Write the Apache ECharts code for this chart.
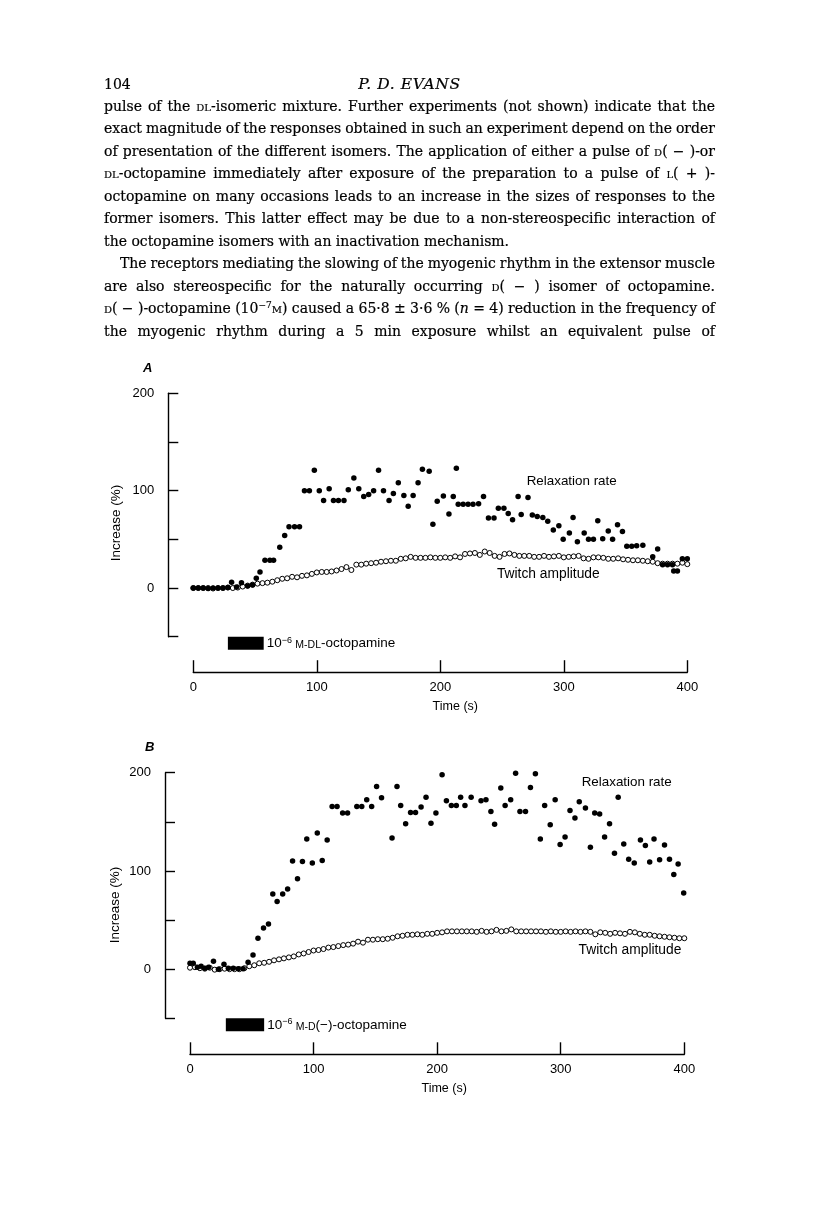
<!DOCTYPE html>
<html>
<head>
<meta charset="utf-8">
<script src="https://cdn.jsdelivr.net/npm/echarts@6/dist/echarts.min.js"></script>
<style>
  html, body { margin: 0; padding: 0; background: #fff; }
  #page { position: relative; width: 816px; height: 1212px; overflow: hidden; }
  #chart { position: absolute; left: 0; top: 0; width: 816px; height: 1212px; }
  .ln { position: absolute; left: 104px; width: 611px; height: 22px; line-height: 22px;
        font-family: "DejaVu Serif", serif; font-size: 14px; color: #000; white-space: nowrap; z-index: 2;
        -webkit-text-stroke: 0.2px #000; }
  .sc { font-variant: small-caps; }
  sup { font-size: 9px; line-height: 0; vertical-align: 5px; }
</style>
</head>
<body>
<div id="page">
  <div id="chart"></div>
  <div class="ln" style="top:73px;">104</div>
  <div class="ln" style="top:73px;text-align:center;font-style:italic;font-size:15.5px;letter-spacing:0.6px;">P. D. EVANS</div>
  <div class="ln fit" style="top:95px;">pulse of the <span class="sc">dl</span>-isomeric mixture. Further experiments (not shown) indicate that the</div>
  <div class="ln fit" style="top:117px;">exact magnitude of the responses obtained in such an experiment depend on the order</div>
  <div class="ln fit" style="top:140px;">of presentation of the different isomers. The application of either a pulse of <span class="sc">d</span>( − )-or</div>
  <div class="ln fit" style="top:162px;"><span class="sc">dl</span>-octopamine immediately after exposure of the preparation to a pulse of <span class="sc">l</span>( + )-</div>
  <div class="ln fit" style="top:185px;">octopamine on many occasions leads to an increase in the sizes of responses to the</div>
  <div class="ln fit" style="top:207px;">former isomers. This latter effect may be due to a non-stereospecific interaction of</div>
  <div class="ln" style="top:230px;">the octopamine isomers with an inactivation mechanism.</div>
  <div class="ln fit" style="top:252px;left:120px;width:595px;">The receptors mediating the slowing of the myogenic rhythm in the extensor muscle</div>
  <div class="ln fit" style="top:275px;">are also stereospecific for the naturally occurring <span class="sc">d</span>( − ) isomer of octopamine.</div>
  <div class="ln fit" style="top:297px;"><span class="sc">d</span>( − )-octopamine (10<sup>−7</sup><span class="sc">m</span>) caused a 65·8 ± 3·6 % (<i>n</i> = 4) reduction in the frequency of</div>
  <div class="ln fit" style="top:320px;">the myogenic rhythm during a 5 min exposure whilst an equivalent pulse of</div>
</div>
<script>
// ---------- data ----------
const timeTicks = [0, 100, 200, 300, 400];
const yTicks = [-50, 0, 50, 100, 150, 200];

const pulseA = [28, 57];
const pulseB = [29, 60];

const relaxA = [[0,0],[4,0],[8,0],[12,-0.5],[16,0],[20,0],[24,0],[28,0.5],[31,6],[35,1],[39,5.5],[44,2],[48,3],[51,10],[54,16.5],[58,28.5],[62,28.5],[65,28.5],[70,42],[74,54],[77.5,63],[82,63],[86,63],[90,100],[94,100],[98,121],[102,100],[105.5,90],[110,102],[113.5,90],[117.5,90],[122,90],[125.5,101],[130,113],[134,102],[138,94],[142,96],[146,100],[150,121],[154,100],[158.5,90],[162,97],[166,108],[170.5,95],[174,84],[178,95],[182,108],[185.5,122],[191,120],[194,65.5],[197.5,89],[202.5,94.5],[207,76],[210.5,94],[213,123],[214.5,86],[218.5,86],[222.5,86],[226.5,86],[231,86.5],[235,94],[239,72],[243.5,72],[247,82],[251.5,82],[255,76.5],[258.5,70],[263,94],[265.5,75.5],[271,93],[274.5,75],[278.5,73.5],[283,72.5],[287,68.5],[291.5,59.5],[296,64],[299.5,50],[304.5,56.5],[307.5,72.5],[311,47.5],[316.5,56.5],[320,50],[324,50],[327.5,69],[331.5,50.5],[336,58.5],[339.5,50],[343.5,65],[347.5,58],[351,43],[355,43],[359,43.5],[364,44],[372,32],[376,40],[380,24],[384,24],[388,24],[389,17.5],[392,17.5],[396,30],[400,30]];

const twitchA = [[0,0],[4,0],[8,0],[12,0],[16,-0.5],[20,0],[24,0],[28,0.5],[32,0],[36,0.5],[40,1.5],[44,2.5],[48,3.5],[52,4.5],[56,5],[60,5.5],[64,6.5],[68,8],[72,9.5],[76,10],[80,11.5],[84,11],[88,12.5],[92,13],[96,14.5],[100,16],[104,16.5],[108,16.5],[112,17],[116,18],[120,19.5],[124,21.5],[128,18.5],[132,24],[136,24],[140,25],[144,25.5],[148,26],[152,27],[156,27.5],[160,28],[164,28],[168,30],[172,30.5],[176,32],[180,31],[184,31],[188,31],[192,31.5],[196,31],[200,31],[204,31.5],[208,31],[212,32.5],[216,31.5],[220,35],[224,35.5],[228,36],[232,34],[236,37.5],[240,36],[244,33],[248,32],[252,35],[256,35.5],[260,34],[264,33],[268,33],[272,33],[276,32],[280,32],[284,33],[288,32],[292,32.5],[296,33],[300,31.5],[304,32],[308,32.5],[312,33],[316,30.5],[320,30],[324,31.5],[328,31.5],[332,31],[336,30],[340,30],[344,30.5],[348,29.5],[352,29],[356,28.5],[360,28.5],[364,28],[368,27.5],[372,27],[376,25.5],[380,25],[384,25],[388,25],[392,25],[396,26],[400,24.5]];

const relaxB = [[0,6],[2.6,6],[6,2],[9,3],[12,1],[15,2],[19,8],[23,0],[27.5,5],[31,1],[35,1],[39,0.5],[43,0.5],[47,7],[51,14.5],[55,31.5],[59.5,42],[63.5,46],[67,76.5],[70.5,69],[75,76.5],[79,81.5],[83,110],[87,92],[91,109.5],[94.5,132.5],[99,108],[103,138.5],[107,110.5],[111,131.5],[115,165.5],[119,165.5],[123.5,159],[127.5,159],[131,200.5],[135,165.5],[139,165.5],[143,172.5],[147,165.5],[151,186],[155,174.5],[159,201.5],[163.5,133.5],[167.5,186],[170.5,166.5],[174.5,148],[178.5,159.5],[182.5,159.5],[187,165],[191,175],[195,148.5],[199,159],[204,198],[207.5,171.5],[211.5,166.5],[215.5,166.5],[219,175],[222.5,166.5],[227.5,175],[231.5,211],[235.5,171.5],[239.5,172.5],[243.5,160.5],[246.5,147.5],[251.5,184.5],[255,166.5],[259.5,172.5],[263.5,199.5],[267,160.5],[271.5,160.5],[275.5,185],[279.5,199],[283.5,132.5],[287,166.5],[291.5,147],[295.5,172.5],[299.5,127],[303.5,134.5],[307.5,161.5],[311.5,154],[315,170.5],[320,164],[324,124],[327.5,159],[331.5,158],[335.5,134.5],[339.5,148],[343.5,118],[346.5,175],[351,127.5],[355,112],[359.5,108],[364.5,131.5],[368.5,126],[372,109],[375.5,132.5],[380,111.5],[384,126.5],[388,112],[391.5,96.5],[395,107],[399.5,77.5]];

const twitchB = [[0,1.5],[4,2],[8,1],[12,0.5],[16,1.5],[20,-0.5],[24,0],[28,0.5],[32,0],[36,0],[40,0],[44,1],[48,3],[52,4],[56,6],[60,6.5],[64,7.5],[68,9],[72,10],[76,11],[80,12],[84,13],[88,15],[92,16],[96,17.5],[100,19],[104,19.5],[108,20.5],[112,22],[116,22.5],[120,23.5],[124,24.5],[128,25],[132,26],[136,28],[140,27],[144,30],[148,30],[152,30.5],[156,30.5],[160,31],[164,32],[168,33.5],[172,34],[176,35],[180,35],[184,35.5],[188,35],[192,36],[196,36],[200,37],[204,37.5],[208,38.5],[212,38.5],[216,38.5],[220,38.5],[224,38.5],[228,38.5],[232,38],[236,39],[240,38],[244,38.5],[248,40],[252,38.5],[256,39],[260,40.5],[264,38.5],[268,38.5],[272,38.5],[276,38.5],[280,38.5],[284,38.5],[288,38],[292,38.5],[296,38],[300,38],[304,38.5],[308,38],[312,38.5],[316,38],[320,38.5],[324,38],[328,35.5],[332,37.5],[336,37],[340,36],[344,37],[348,36.5],[352,36],[356,38],[360,37.5],[364,36],[368,35],[372,35],[376,34],[380,33.5],[384,33],[388,32.5],[392,32],[396,31.5],[400,31.5]];

const labelRelax = 'Relaxation rate';
const labelTwitch = 'Twitch amplitude';
const yName = 'Increase (%)';
const xName = 'Time (s)';
const drugA = '{n|10}{s|−6} {c|M-DL}{n|-octopamine}';
const drugB = '{n|10}{s|−6} {c|M-D}{n|(−)-octopamine}';

// ---------- chart ----------
const INK = '#000';
const FONT = '"Liberation Sans", Arial, sans-serif';
const chart = echarts.init(document.getElementById('chart'), null, {renderer: 'canvas'});

function xAx(gi, off, pad) {
  return {
    gridIndex: gi, type: 'value', min: timeTicks[0], max: timeTicks[timeTicks.length-1], interval: 100,
    position: 'bottom', offset: off,
    axisLine: {show: true, onZero: false, lineStyle: {color: INK, width: 1.4}},
    axisTick: {show: true, inside: true, length: 12, lineStyle: {color: INK, width: 1.4}},
    axisLabel: {color: INK, fontSize: 13, fontFamily: FONT, margin: 9},
    splitLine: {show: false},
    name: xName, nameLocation: 'middle', nameGap: 28,
    nameTextStyle: {color: INK, fontSize: 12.5, fontFamily: FONT, padding: [0, 0, 0, pad]}
  };
}
function yAx(gi) {
  return {
    gridIndex: gi, type: 'value', min: yTicks[0], max: yTicks[yTicks.length-1], interval: 50,
    position: 'left', offset: 25,
    axisLine: {show: true, onZero: false, lineStyle: {color: INK, width: 1.4}},
    axisTick: {show: true, inside: true, length: 10, lineStyle: {color: INK, width: 1.4}},
    axisLabel: {color: INK, fontSize: 13, fontFamily: FONT, margin: 14,
      formatter: v => (v % 100 === 0 && v >= 0) ? String(v) : ''},
    splitLine: {show: false}
  };
}
function pulseSeries(xi, yi, pulse, txt) {
  return {
    type: 'custom', xAxisIndex: xi, yAxisIndex: yi, clip: false, silent: true,
    data: [pulse],
    renderItem: (params, api) => {
      const p0 = api.coord([api.value(0), yTicks[0]]);
      const p1 = api.coord([api.value(1), yTicks[0]]);
      return {type: 'group', children: [
        {type: 'rect', shape: {x: p0[0], y: p0[1], width: p1[0] - p0[0], height: 13}, style: {fill: '#000'}},
        {type: 'text', x: p1[0] + 3, y: p0[1] + 6.5, style: {
          text: txt, verticalAlign: 'middle', fill: INK,
          rich: {
            n: {fontSize: 13.5, fontFamily: FONT, fill: INK, verticalAlign: 'bottom', lineHeight: 15},
            s: {fontSize: 9, fontFamily: FONT, fill: INK, verticalAlign: 'top', lineHeight: 15},
            c: {fontSize: 10.5, fontFamily: FONT, fill: INK, verticalAlign: 'bottom', lineHeight: 14}
          }}}
      ]};
    }
  };
}
const openStyle = {color: '#fff', borderColor: INK, borderWidth: 1, opacity: 1};
const fillStyle = {color: '#000', opacity: 1};

const option = {
  animation: false,
  backgroundColor: '#fff',
  grid: [
    {left: 193.3, top: 393.3, width: 494, height: 243.4},
    {left: 190, top: 772.7, width: 494.3, height: 245.6}
  ],
  xAxis: [xAx(0, 35.5, 30), xAx(1, 36, 14)],
  yAxis: [yAx(0), yAx(1)],
  series: [
    {type: 'scatter', xAxisIndex: 0, yAxisIndex: 0, data: twitchA, symbol: 'circle', symbolSize: 5, itemStyle: openStyle, silent: true},
    {type: 'scatter', xAxisIndex: 0, yAxisIndex: 0, data: relaxA, symbol: 'circle', symbolSize: 5.5, itemStyle: fillStyle, silent: true},
    {type: 'scatter', xAxisIndex: 1, yAxisIndex: 1, data: twitchB, symbol: 'circle', symbolSize: 5, itemStyle: openStyle, silent: true},
    {type: 'scatter', xAxisIndex: 1, yAxisIndex: 1, data: relaxB, symbol: 'circle', symbolSize: 5.5, itemStyle: fillStyle, silent: true},
    pulseSeries(0, 0, pulseA, drugA),
    pulseSeries(1, 1, pulseB, drugB)
  ],
  graphic: [
    {type: 'text', left: 143, top: 362, style: {text: 'A', font: 'italic bold 13px ' + FONT, fill: INK}},
    {type: 'text', left: 145, top: 741, style: {text: 'B', font: 'italic bold 13px ' + FONT, fill: INK}},
    {type: 'text', x: 116.5, y: 523, rotation: Math.PI / 2, style: {text: yName, font: '13.5px ' + FONT, fill: INK, align: 'center', verticalAlign: 'middle'}},
    {type: 'text', x: 115, y: 905, rotation: Math.PI / 2, style: {text: yName, font: '13.5px ' + FONT, fill: INK, align: 'center', verticalAlign: 'middle'}},
    {type: 'text', x: 571.7, y: 481, style: {text: labelRelax, font: '13.4px ' + FONT, fill: INK, align: 'center', verticalAlign: 'middle'}},
    {type: 'text', x: 548.3, y: 574.3, style: {text: labelTwitch, font: '13.8px ' + FONT, fill: INK, align: 'center', verticalAlign: 'middle'}},
    {type: 'text', x: 626.7, y: 782.3, style: {text: labelRelax, font: '13.4px ' + FONT, fill: INK, align: 'center', verticalAlign: 'middle'}},
    {type: 'text', x: 630, y: 950, style: {text: labelTwitch, font: '13.8px ' + FONT, fill: INK, align: 'center', verticalAlign: 'middle'}}
  ]
};
chart.setOption(option);

// ---------- justify text lines ----------
function fitLines() {
  document.querySelectorAll('.fit').forEach(el => {
    el.style.wordSpacing = '0px';
    const target = parseFloat(getComputedStyle(el).width);
    const range = document.createRange();
    range.selectNodeContents(el);
    const w = range.getBoundingClientRect().width;
    const gaps = (el.textContent.match(/ /g) || []).length;
    if (gaps > 0) el.style.wordSpacing = ((target - w) / gaps) + 'px';
  });
}
if (document.fonts && document.fonts.ready) document.fonts.ready.then(fitLines); else fitLines();
fitLines();
</script>
</body>
</html>
